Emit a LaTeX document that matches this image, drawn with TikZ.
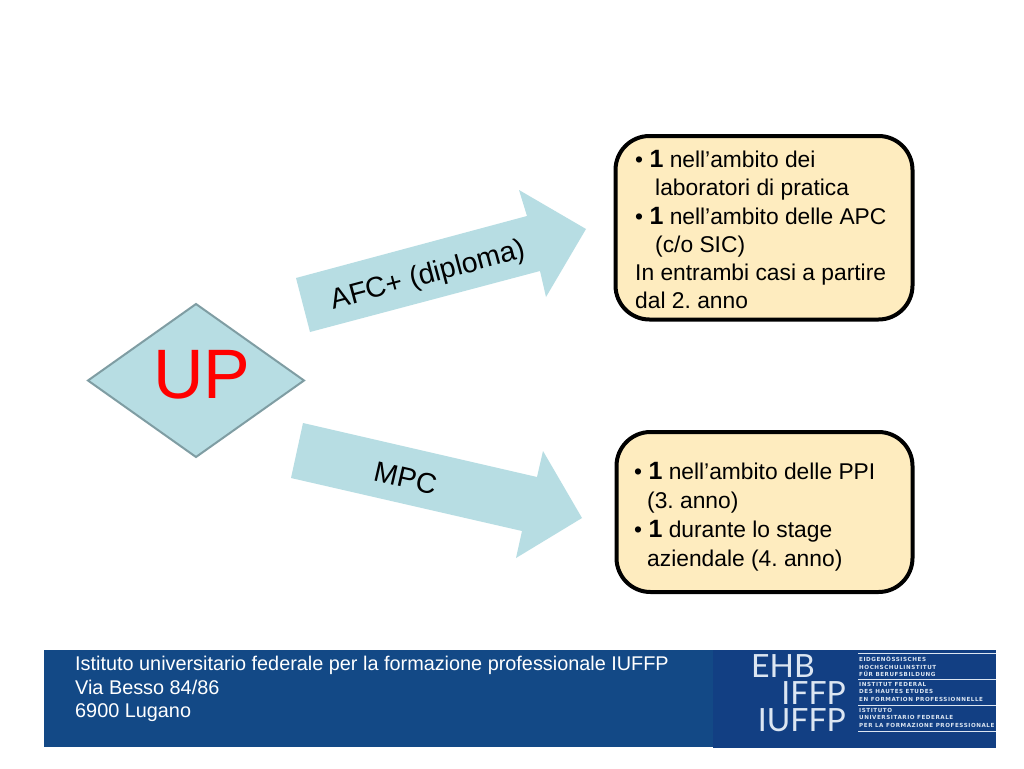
\documentclass[tikz,border=0pt]{standalone}
\usepackage{fontspec}
\setmainfont{Liberation Sans}
\newfontfamily\logofont{Lato}
\newfontfamily\logosmall[LetterSpace=10]{DejaVu Sans Bold}
\frenchspacing
\definecolor{arrowfill}{HTML}{B7DDE3}
\definecolor{diamondline}{HTML}{7F9DA3}
\definecolor{boxfill}{HTML}{FEECBF}
\definecolor{footerblue}{HTML}{134986}
\definecolor{logoblue}{HTML}{123F83}
\definecolor{logotext}{HTML}{DCE6F2}
\tikzset{
  x=1pt,y=-1pt,
  flow/.style={fill=arrowfill,draw=none},
  infobox/.style={draw=black,line width=4pt,fill=boxfill,rounded corners=34pt},
  boxtext/.style={anchor=north west,align=left,inner sep=0pt},
  arrowlabel/.style={font=\fontsize{28.5}{32}\selectfont,inner sep=0pt},
  foottext/.style={anchor=north west,align=left,inner sep=0pt,text=white,font=\fontsize{19.85}{23.6}\selectfont},
  logobig/.style={anchor=base east,inner sep=0pt,text=logotext,font=\logofont\fontsize{32}{32}\selectfont},
  logotiny/.style={anchor=north west,align=left,inner sep=0pt,text=logotext,font=\logosmall\fontsize{5.6}{7.6}\selectfont},
  logorule/.style={draw=logotext,line width=0.7pt}
}
\newcommand{\one}{\textbf{\fontsize{25}{28}\selectfont 1}}
\begin{document}
\begin{tikzpicture}
\useasboundingbox (0,0) rectangle (1024,768);
\fill[white] (0,0) rectangle (1024,768);
% arrows
\fill[flow] (296,278) -- (527,216) -- (519,190) -- (586,229) -- (546,297) -- (540,271) -- (310,332) -- cycle;
\fill[flow] (303,423) -- (537,477) -- (543,451) -- (582,518) -- (516,558) -- (522,531) -- (291,478) -- cycle;
\node[arrowlabel,rotate=15] (afc) at (428.5,276) {AFC+ (diploma)};
\node[arrowlabel,rotate=-13] (mpc) at (405.5,478) {MPC};
% diamond
\filldraw[fill=arrowfill,draw=diamondline,line width=2pt] (196,304) -- (304,380.5) -- (196,457) -- (88,380.5) -- cycle;
\node[text=red,inner sep=0pt,font=\fontsize{70}{72}\selectfont] (up) at (202,375) {UP};
% boxes
\draw[infobox] (615.5,136) rectangle (912.5,319.5);
\node[boxtext,font=\fontsize{22.8}{28.3}\selectfont] (t1) at (635,150) {• \one{} nell’ambito dei\\\hspace*{20pt}laboratori di pratica\\• \one{} nell’ambito delle APC\\\hspace*{20pt}(c/o SIC)\\In entrambi casi a partire\\dal 2. anno};
\draw[infobox] (616.5,432) rectangle (912.5,592);
\node[boxtext,font=\fontsize{22.8}{29}\selectfont] (t2) at (634,462) {• \one{} nell’ambito delle PPI\\\hspace*{13pt}(3. anno)\\• \one{} durante lo stage\\\hspace*{13pt}aziendale (4. anno)};
% footer
\fill[footerblue] (44,650) rectangle (713,747);
\fill[logoblue] (713,650) rectangle (996,748);
\node[foottext] (f) at (75,656) {Istituto universitario federale per la formazione professionale IUFFP\\Via Besso 84/86\\6900 Lugano};
\node[logobig,anchor=base west] (ehb) at (751,677) {EHB};
\node[logobig] (iffp) at (846,704) {IFFP};
\node[logobig] (iuffp) at (846,731) {IUFFP};
\draw[logorule] (858,653) -- (996,653);
\draw[logorule] (858,679) -- (996,679);
\draw[logorule] (858,705) -- (996,705);
\draw[logorule] (858,731) -- (996,731);
\node[logotiny] (l1) at (859,656) {EIDGENÖSSISCHES\\HOCHSCHULINSTITUT\\FÜR BERUFSBILDUNG};
\node[logotiny] (l2) at (859,682) {INSTITUT FEDERAL\\DES HAUTES ETUDES\\EN FORMATION PROFESSIONNELLE};
\node[logotiny] (l3) at (859,708) {ISTITUTO\\UNIVERSITARIO FEDERALE\\PER LA FORMAZIONE PROFESSIONALE};
\end{tikzpicture}
\end{document}
